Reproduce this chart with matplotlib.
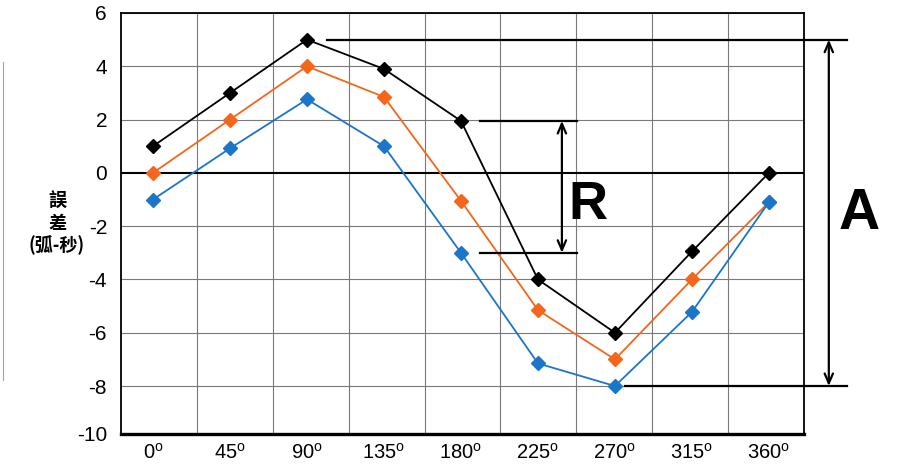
import numpy as np
import matplotlib
matplotlib.use("Agg")
import matplotlib.pyplot as plt

plt.rcParams['font.family'] = ['Liberation Sans', 'Noto Sans CJK SC', 'DejaVu Sans']
plt.rcParams['mathtext.fontset'] = 'custom'
plt.rcParams['mathtext.rm'] = 'Liberation Sans'

# ---- data ----
angles = [0, 45, 90, 135, 180, 225, 270, 315, 360]
black = [1.0, 3.0, 5.0, 3.9, 1.95, -4.0, -6.0, -2.95, 0.0]
orange = [0.0, 2.0, 4.0, 2.85, -1.05, -5.15, -7.0, -4.0, -1.1]
blue = [-1.0, 0.92, 2.76, 1.0, -3.0, -7.15, -8.0, -5.22, -1.1]
ytick_values = [-8, -6, -4, -2, 0, 2, 4, 6]
ytick_labels = ['-10', '-8', '-6', '-4', '-2', '0', '2', '4', '6']
ylabel_lines = ['誤', '差', '(弧-秒)']

C_BLACK = '#000000'
C_ORANGE = '#F4661B'
C_BLUE = '#1B75C9'

W, H = 899, 466
fig = plt.figure(figsize=(W / 100, H / 100), dpi=100)
left, right, top, bottom = 121, 804, 13, 434
ax = fig.add_axes([left / W, 1 - bottom / H, (right - left) / W, (bottom - top) / H])

xlim = (-18.7, 380.5)
ylim = (-9.8, 6)
ax.set_xlim(*xlim)
ax.set_ylim(*ylim)

# grid
for gx in np.linspace(xlim[0], xlim[1], 10)[1:-1]:
    ax.axvline(gx, color='#7a7a7a', lw=0.8, zorder=1)
for gy in ytick_values:
    if gy == 0:
        ax.axhline(gy, color='black', lw=1.5, zorder=1)
    else:
        ax.axhline(gy, color='#7a7a7a', lw=0.8, zorder=1)

for s in ['top', 'left', 'right']:
    ax.spines[s].set_linewidth(1.3)
ax.spines['bottom'].set_linewidth(2.4)

mk = dict(marker='D', markersize=7, lw=1.3, zorder=3)
ax.plot(angles, black, color=C_BLACK, **mk)
ax.plot(angles, orange, color=C_ORANGE, **mk)
ax.plot(angles, blue, color=C_BLUE, **mk)

ax.set_xticks(angles)
ax.set_xticklabels([f'{a}$^{{\\mathrm{{o}}}}$' for a in angles], fontsize=14.5)
ax.set_yticks([ylim[0]] + ytick_values)
ax.set_yticklabels(ytick_labels, fontsize=15)
ax.tick_params(axis='both', length=0)
ax.tick_params(axis='y', pad=10)
ax.tick_params(axis='x', pad=6)

# annotations: A (overall span) and R (span at 180)
amax = max(black)
amin = min(blue)
i180 = angles.index(180)
rtop = black[i180]
rbot = blue[i180]
lk = dict(color='black', lw=1.6, clip_on=False, zorder=4)
ax.plot([101.7, 405.6], [amax, amax], **lk)
ax.plot([276, 405.6], [amin, amin], **lk)
ax.annotate('', xy=(395, amax), xytext=(395, amin), annotation_clip=False,
            arrowprops=dict(arrowstyle='<->,head_length=0.7,head_width=0.3', lw=1.6, color='black',
                            shrinkA=0, shrinkB=0))
ax.plot([191, 247.8], [rtop, rtop], **lk)
ax.plot([191, 247.8], [rbot, rbot], **lk)
ax.annotate('', xy=(239, rtop), xytext=(239, rbot), annotation_clip=False,
            arrowprops=dict(arrowstyle='<->,head_length=0.7,head_width=0.3', lw=1.6, color='black',
                            shrinkA=0, shrinkB=0))
ax.text(254.5, -1.2, 'R', fontsize=39, fontweight='bold', ha='center', va='center', zorder=5)
ax.text(412.6, -1.55, 'A', fontsize=41, fontweight='bold', ha='center', va='center', zorder=5, clip_on=False)

# y label (stacked)
for txt, py in zip(ylabel_lines, [201, 223, 245]):
    fig.text(57 / W, 1 - py / H, txt, fontsize=13, ha='center', va='center', fontweight='bold',
             family=['Noto Sans CJK SC', 'DejaVu Sans'])

# faint left-edge line from the source image
fig.add_artist(plt.Line2D([2.5 / W, 2.5 / W], [1 - 62 / H, 1 - 380 / H], color='#9aa6b4', lw=0.8))

fig.savefig('out.png', dpi=100)
